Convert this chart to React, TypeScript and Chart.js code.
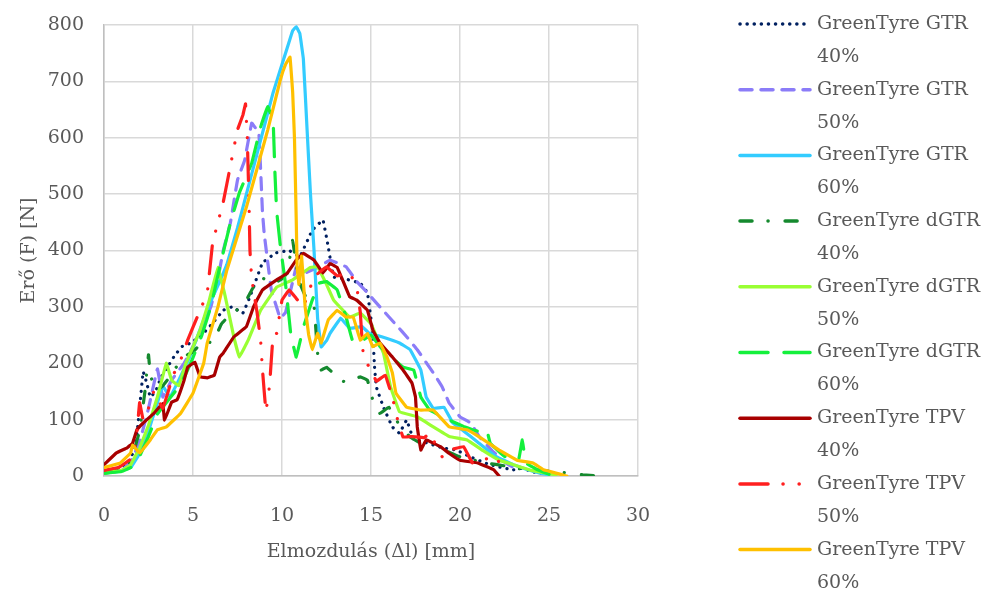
import React, { useEffect, useRef } from "react";
import { Chart, registerables } from "chart.js";

Chart.register(...registerables);

type Pt = [number, number];

const seriesNames: string[][] = [
  ["GreenTyre GTR", "40%"],
  ["GreenTyre GTR", "50%"],
  ["GreenTyre GTR", "60%"],
  ["GreenTyre dGTR", "40%"],
  ["GreenTyre dGTR", "50%"],
  ["GreenTyre dGTR", "60%"],
  ["GreenTyre TPV", "40%"],
  ["GreenTyre TPV", "50%"],
  ["GreenTyre TPV", "60%"],
];

const xTicksMax = 30;
const yTicksMax = 800;
const xAxisTitle = "Elmozdulás (Δl) [mm]";
const yAxisTitle = "Erő (F) [N]";

const gtr40: Pt[] = [
  [0, 8], [0.5, 10], [1, 15], [1.5, 30], [1.8, 60], [2.0, 120], [2.2, 185], [2.4, 165], [2.6, 140],
  [2.9, 150], [3.2, 175], [3.6, 195], [4.0, 215], [4.4, 230], [4.8, 235], [5.4, 247], [6.1, 271],
  [6.7, 294], [7.2, 300], [7.8, 289], [8.2, 318], [8.9, 378], [9.4, 390], [9.7, 396], [10.4, 400],
  [11, 389], [11.7, 436], [12.3, 454], [12.6, 406], [12.9, 353], [13.5, 350], [14.4, 342], [14.8, 325],
  [15.1, 253], [15.2, 193], [15.3, 158], [15.7, 122], [16.2, 87], [16.6, 76], [17, 99], [17.4, 64],
  [18, 60], [19, 50], [19.8, 46], [20.5, 35], [21.5, 22], [22.2, 16], [23, 11], [23.5, 14], [24, 8],
  [24.5, 5], [25, 3],
];

const gtr50: Pt[] = [
  [0, 5], [1, 10], [1.5, 25], [2, 60], [2.5, 120], [3, 190], [3.3, 140], [3.8, 170], [4.5, 200],
  [5, 230], [5.5, 260], [6, 300], [6.4, 350], [6.7, 400], [7.1, 449], [7.5, 525], [7.9, 560],
  [8.3, 626], [8.7, 608], [8.9, 470], [9.0, 430], [9.4, 330], [9.9, 280], [10.2, 290], [10.8, 371],
  [11.3, 360], [12, 370], [12.7, 383], [13.6, 371], [14.2, 345], [14.8, 325], [15.5, 300], [16.5, 265],
  [17, 247], [17.6, 224], [18.5, 183], [19, 158], [19.4, 129], [20, 105], [20.6, 94], [21.1, 69],
  [21.8, 45], [22.5, 25], [23, 15],
];

const gtr60: Pt[] = [
  [0, 5], [0.8, 8], [1.5, 15], [2, 40], [2.5, 80], [3, 130], [3.3, 160], [3.7, 140], [4.2, 170],
  [4.8, 210], [5.4, 260], [6, 310], [6.5, 345], [6.9, 375], [7.5, 440], [8, 500], [8.5, 560],
  [9, 620], [9.5, 680], [9.9, 720], [10.3, 760], [10.6, 790], [10.8, 797], [11.0, 785], [11.2, 740],
  [11.4, 620], [11.6, 500], [11.8, 400], [12, 280], [12.2, 229], [12.5, 240], [12.7, 253], [13.3, 280],
  [13.8, 262], [14.5, 265], [14.9, 253], [15.6, 247], [16.6, 236], [17.2, 224], [17.8, 188], [18.1, 140],
  [18.5, 120], [19.1, 122], [19.6, 94], [20.2, 80], [21, 60], [22, 35], [23, 20], [23.8, 11], [24.5, 5],
  [25, 2],
];

const dgtr40: Pt[] = [
  [0, 5], [1, 12], [1.5, 25], [2, 80], [2.3, 150], [2.5, 215], [2.6, 180], [2.9, 150], [3.3, 160],
  [3.8, 180], [4.4, 210], [5, 220], [5.6, 240], [6.1, 236], [6.6, 270], [7.2, 290], [7.8, 300],
  [8.3, 330], [8.8, 353], [9.5, 340], [10.0, 350], [10.3, 360], [10.6, 418], [10.9, 350], [11.3, 320],
  [11.8, 300], [12.0, 218], [12.2, 188], [12.5, 193], [13.1, 176], [13.6, 165], [14.4, 176], [14.8, 170],
  [15.1, 135], [15.5, 111], [16, 122], [16.6, 90], [17.2, 69], [17.8, 58], [18.5, 58], [19.2, 45],
  [20, 34], [21.5, 23], [22.5, 18], [23.5, 12], [24.5, 10], [25.6, 7], [26.9, 2], [27.7, 0],
];

const dgtr50: Pt[] = [
  [0, 5], [1, 10], [1.5, 20], [2, 50], [2.5, 90], [3, 140], [3.5, 200], [3.8, 170], [4.2, 160],
  [4.6, 200], [5, 229], [5.4, 259], [5.9, 310], [6.4, 370], [6.8, 320], [7.3, 246], [7.6, 211],
  [8.1, 241], [8.8, 294], [9.7, 335], [10.6, 348], [11.6, 370], [12, 371], [12.5, 340], [12.9, 312],
  [13.8, 282], [14.4, 289], [15, 270], [15.7, 218], [16.1, 158], [16.6, 114], [17.6, 105], [18.5, 87],
  [19.4, 70], [20.4, 64], [21.3, 45], [22.2, 28], [23, 20], [24, 10], [25.4, 2],
];

const dgtr60: Pt[] = [
  [0, 5], [1, 8], [1.5, 15], [2, 35], [2.5, 70], [3, 110], [3.5, 130], [4, 150], [4.5, 175],
  [5, 210], [5.5, 250], [6, 300], [6.5, 370], [7.1, 449], [7.6, 502], [8.3, 555], [8.8, 619],
  [9.2, 655], [9.5, 630], [9.6, 540], [9.7, 470], [9.9, 410], [10.2, 340], [10.5, 250], [10.8, 211],
  [11.2, 264], [11.7, 312], [12.1, 342], [12.5, 345], [13.1, 330], [13.6, 282], [14, 236], [14.5, 240],
  [15, 250], [15.5, 230], [16, 215], [16.8, 193], [17.4, 188], [17.8, 140], [18.3, 117], [19.4, 99],
  [20.2, 88], [20.7, 82], [21.2, 78], [21.5, 82], [21.7, 58], [22.3, 40], [22.8, 28], [23.3, 30],
  [23.5, 64], [23.7, 23], [24.3, 12], [25, 3],
];

const tpv40: Pt[] = [
  [0, 20], [0.7, 41], [1.3, 50], [1.6, 58], [1.85, 82], [2.2, 94], [2.8, 111], [3.3, 129], [3.4, 99],
  [3.8, 131], [4.1, 135], [4.5, 170], [4.7, 193], [5.1, 202], [5.4, 176], [5.8, 174], [6.2, 179],
  [6.5, 211], [6.7, 218], [7.3, 247], [8, 265], [8.4, 300], [8.9, 330], [9.7, 348], [10.3, 360],
  [10.8, 383], [11.2, 395], [11.8, 383], [12.3, 360], [12.7, 377], [13.1, 370], [13.4, 348], [13.8, 318],
  [14.2, 312], [14.8, 294], [15.1, 259], [15.5, 236], [16.2, 211], [16.8, 188], [17.3, 165], [17.5, 140],
  [17.6, 87], [17.8, 46], [18.1, 64], [18.9, 52], [19.4, 40], [20, 28], [21, 23], [21.9, 11], [22.2, 0],
];

const tpv50: Pt[] = [
  [0, 10], [0.8, 15], [1.5, 30], [1.8, 60], [2.0, 130], [2.2, 100], [2.5, 120], [2.8, 150], [3.3, 120],
  [3.9, 180], [4.3, 205], [4.7, 241], [5, 264], [5.4, 294], [5.8, 325], [6.1, 413], [6.4, 450],
  [6.7, 486], [7.1, 550], [7.5, 614], [7.8, 640], [7.95, 660], [8.05, 600], [8.1, 540], [8.15, 480],
  [8.2, 400], [8.3, 350], [8.6, 290], [8.8, 240], [8.9, 190], [9.0, 150], [9.1, 115], [9.3, 160],
  [9.5, 250], [9.7, 253], [10, 312], [10.4, 330], [10.8, 315], [11.2, 300], [11.8, 353], [12.5, 371],
  [13.1, 355], [13.8, 360], [14.2, 335], [14.4, 290], [14.5, 240], [14.6, 206], [15, 190], [15.3, 168],
  [15.8, 179], [16.2, 140], [16.5, 99], [16.8, 69], [17.3, 70], [18, 68], [18.3, 76], [19, 34],
  [19.4, 46], [20.2, 52], [20.7, 23], [21.2, 28], [21.7, 32], [22.1, 34], [22.3, 5],
];

const tpv60: Pt[] = [
  [0, 15], [0.9, 23], [1.5, 41], [1.6, 55], [2, 41], [2.6, 64], [3, 82], [3.5, 87], [4.3, 111],
  [5, 147], [5.6, 200], [5.8, 236], [6.4, 300], [6.9, 365], [8, 477], [9.2, 614], [9.9, 702],
  [10.2, 730], [10.45, 743], [10.6, 680], [10.7, 600], [10.8, 454], [10.85, 371], [10.95, 340],
  [11.1, 390], [11.3, 300], [11.5, 250], [11.7, 224], [12, 253], [12.2, 236], [12.6, 277], [13.1, 294],
  [13.6, 282], [14, 282], [14.4, 241], [14.8, 253], [15.1, 229], [15.5, 236], [15.9, 211], [16.2, 183],
  [16.4, 147], [17, 122], [17.8, 117], [18.5, 117], [19.4, 87], [20.4, 82], [21.1, 69], [22.2, 46],
  [23.2, 28], [24.1, 23], [24.7, 11], [26, 0],
];

const seriesData: Pt[][] = [gtr40, gtr50, gtr60, dgtr40, dgtr50, dgtr60, tpv40, tpv50, tpv60];

const seriesColors: string[] = [
  "#002060", "#8B7CF8", "#33CCFF", "#15892E", "#99FF33", "#14F03C", "#A80000", "#FF1F1F", "#FFC000",
];

const seriesDashes: number[][] = [
  [0.1, 7],
  [12, 9],
  [],
  [12, 16, 0.1, 17],
  [],
  [28, 16],
  [],
  [28, 15, 0.1, 16, 0.1, 15],
  [],
];

const FONT = "'DejaVu Serif', serif";
const TEXT_COLOR = "#595959";

const legendPlugin = {
  id: "customLegend",
  afterDraw(chart: any) {
    const ctx = chart.ctx as CanvasRenderingContext2D;
    ctx.save();
    const x0 = 740;
    const x1 = 810;
    const tx = 817;
    const top = 24;
    const entry = 65.7;
    const line = 33;
    ctx.font = `19px ${FONT}`;
    ctx.textBaseline = "middle";
    ctx.textAlign = "left";
    seriesNames.forEach((nm, i) => {
      const y = top + i * entry;
      ctx.beginPath();
      ctx.strokeStyle = seriesColors[i];
      ctx.lineWidth = 3.5;
      ctx.lineCap = "round";
      ctx.setLineDash(seriesDashes[i]);
      ctx.moveTo(x0, y);
      ctx.lineTo(x1, y);
      ctx.stroke();
      ctx.setLineDash([]);
      ctx.fillStyle = TEXT_COLOR;
      ctx.fillText(nm[0], tx, y);
      ctx.fillText(nm[1], tx, y + line);
    });
    ctx.restore();
  },
};

export default function App() {
  const ref = useRef<HTMLCanvasElement | null>(null);
  useEffect(() => {
    document.body.style.margin = "0";
    const canvas = ref.current;
    if (!canvas) return;
    const chart = new Chart(canvas, {
      type: "scatter",
      data: {
        datasets: seriesData.map((d, i) => ({
          label: seriesNames[i].join(" "),
          data: d.map(([x, y]) => ({ x, y })),
          showLine: true,
          borderColor: seriesColors[i],
          backgroundColor: seriesColors[i],
          borderWidth: 3.2,
          borderDash: seriesDashes[i],
          borderCapStyle: "round",
          borderJoinStyle: "round",
          pointRadius: 0,
          pointHoverRadius: 0,
          tension: 0.05,
          order: seriesData.length - 1 - i,
        })) as any,
      },
      options: {
        responsive: false,
        animation: false,
        devicePixelRatio: 1,
        layout: { padding: { left: 0, top: 25, right: 365, bottom: 0 } },
        plugins: {
          legend: { display: false },
          tooltip: { enabled: false },
          title: { display: false },
        },
        scales: {
          x: {
            type: "linear",
            min: 0,
            max: xTicksMax,
            ticks: {
              stepSize: 5,
              color: TEXT_COLOR,
              font: { family: FONT, size: 19 },
              padding: 29,
              maxRotation: 0,
            },
            grid: { color: "#D9D9D9", lineWidth: 1.5, drawTicks: false },
            border: { color: "#BFBFBF", width: 1.5 },
            title: {
              display: true,
              text: xAxisTitle,
              color: TEXT_COLOR,
              font: { family: FONT, size: 19 },
              padding: { top: 0, bottom: 29 },
            },
            afterFit(scale: any) {
              scale.height = 116;
              scale.paddingLeft = 0;
              scale.paddingRight = 0;
            },
          },
          y: {
            type: "linear",
            min: 0,
            max: yTicksMax,
            ticks: {
              stepSize: 100,
              color: TEXT_COLOR,
              font: { family: FONT, size: 19 },
              padding: 20,
            },
            grid: { color: "#D9D9D9", lineWidth: 1.5, drawTicks: false },
            border: { color: "#BFBFBF", width: 1.5 },
            title: {
              display: true,
              text: yAxisTitle,
              color: TEXT_COLOR,
              font: { family: FONT, size: 19 },
              padding: { top: 18, bottom: 0 },
            },
            afterFit(scale: any) {
              scale.width = 104;
              scale.paddingTop = 0;
              scale.paddingBottom = 0;
            },
          },
        },
      },
      plugins: [legendPlugin],
    });
    return () => chart.destroy();
  }, []);
  return (
    <div style={{ position: "absolute", left: 0, top: 0, width: 1003, height: 592, background: "#fff" }}>
      <canvas ref={ref} width={1003} height={592} style={{ display: "block", width: 1003, height: 592 }} />
    </div>
  );
}
